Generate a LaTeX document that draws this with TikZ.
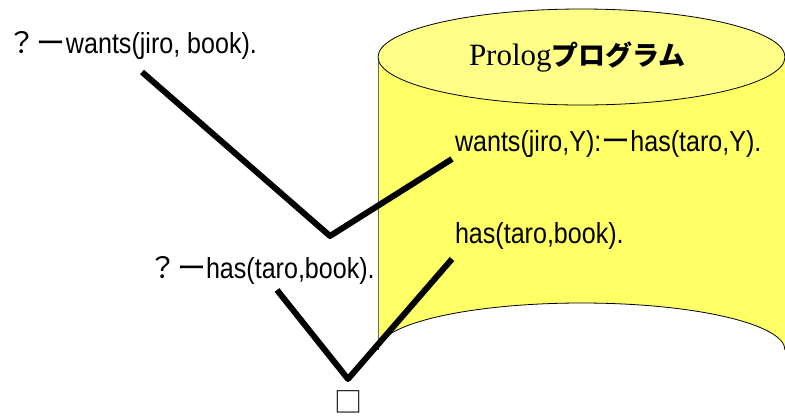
\documentclass[tikz,border=0pt]{standalone}
\usepackage{fontspec}
\newfontfamily\latin[FakeStretch=0.865]{Liberation Sans}
\newfontfamily\cjk{Noto Sans CJK JP}
\newfontfamily\tms{Liberation Serif}
\definecolor{bodyyellow}{RGB}{255,255,102}
\definecolor{topyellow}{RGB}{255,255,136}
\tikzset{
  txt/.style={inner sep=0pt, outer sep=0pt, anchor=base west, font=\fontsize{29pt}{30pt}\selectfont},
  vline/.style={line width=6pt, black, line join=round},
}
\begin{document}
\begin{tikzpicture}[x=1pt,y=-1pt]
\useasboundingbox (0,0) rectangle (785,416);
\clip (0,0) rectangle (785,416);
% cylinder
\fill[bodyyellow] (378,57) -- (378,350) arc[start angle=180,end angle=360,x radius=203.5,y radius=47] -- (785,57) -- cycle;
\draw[gray!80!black, line width=0.9pt] (378,57) -- (378,350);
\draw[black, line width=0.8pt] (378,350) arc[start angle=180,end angle=360,x radius=203.5,y radius=47];
\draw[black, line width=0.8pt] (785,57) -- (785,350);
\filldraw[fill=topyellow, draw=black, line width=0.8pt] (581.5,57) ellipse[x radius=203.5,y radius=48];
% texts
\node[txt] (q1) at (8,53) {{\cjk ？ー}{\latin wants(jiro, book).}};
\node[txt] (title) at (469,65) {{\tms\fontsize{31pt}{32pt}\selectfont Prolog}{\cjk\bfseries\fontsize{27pt}{28pt}\selectfont プログラム}};
\node[txt] (r1) at (455,151) {{\latin wants(jiro,Y):}{\cjk ー}{\latin has(taro,Y).}};
\node[txt] (r2) at (455,243) {\latin has(taro,book).};
\node[txt] (q2) at (148,278) {{\cjk ？ー}{\latin has(taro,book).}};
\node[txt, anchor=base, font=\fontsize{28pt}{29pt}\selectfont] (empty) at (348.5,412) {\cjk □};
% connectors
\coordinate (a1) at (142,72);
\coordinate (v1) at (330,236);
\coordinate (b1) at (452,159);
\coordinate (a2) at (277,290);
\coordinate (v2) at (348,379);
\coordinate (b2) at (452,259);
\draw[vline] (a1) -- (v1) -- (b1);
\draw[vline] (a2) -- (v2) -- (b2);
\end{tikzpicture}
\end{document}
